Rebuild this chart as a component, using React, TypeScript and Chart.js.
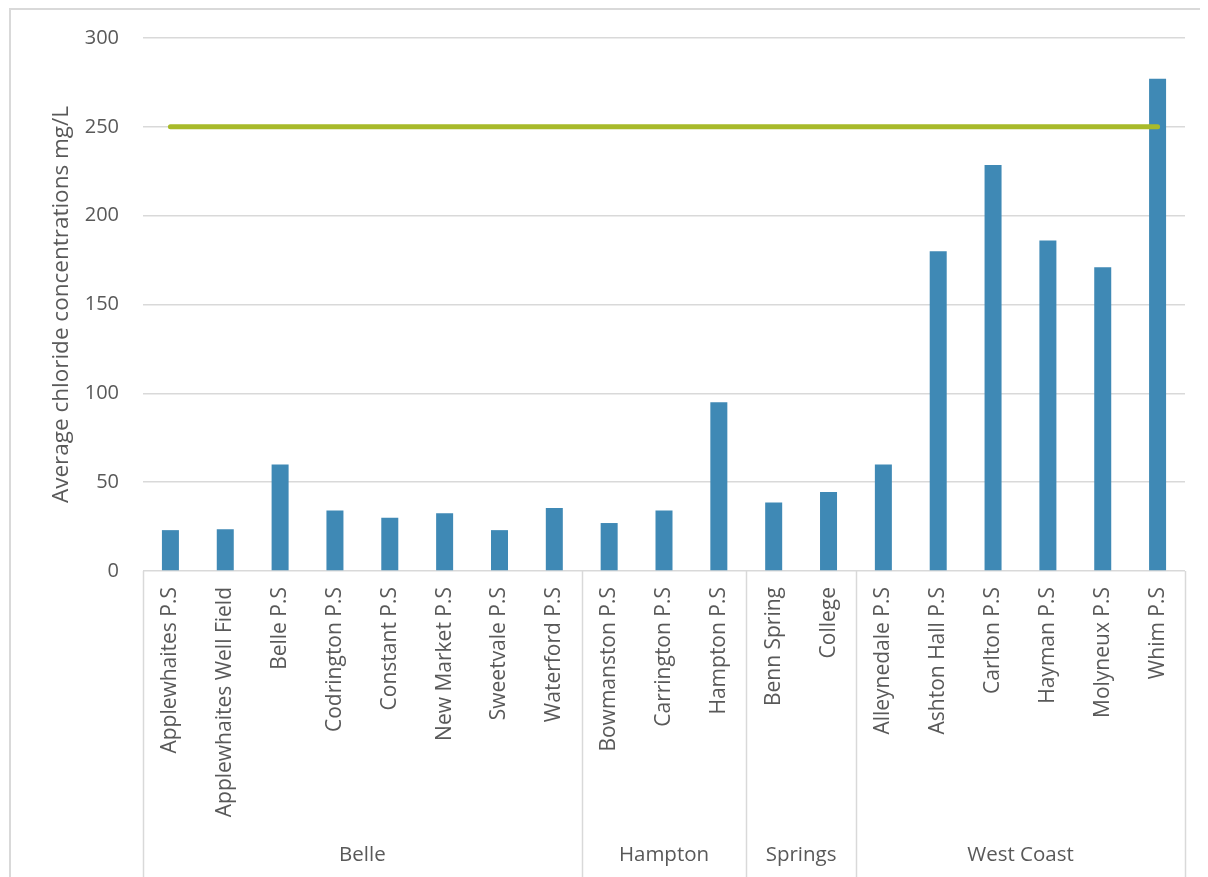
import React, { useEffect, useRef } from "react";
import { Chart, registerables } from "chart.js";

Chart.register(...registerables);

// Pumping stations, in the order they sit along the axis
const stations = [
  "Applewhaites P.S",
  "Applewhaites Well Field",
  "Belle P.S",
  "Codrington P.S",
  "Constant P.S",
  "New Market P.S",
  "Sweetvale P.S",
  "Waterford P.S",
  "Bowmanston P.S",
  "Carrington P.S",
  "Hampton P.S",
  "Benn Spring",
  "College",
  "Alleynedale P.S",
  "Ashton Hall P.S",
  "Carlton P.S",
  "Hayman P.S",
  "Molyneux P.S",
  "Whim P.S",
];

// Average chloride concentration (mg/L) per station
const chloride = [
  23, 23.5, 60, 34, 30, 32.5, 23, 35.5, 27, 34, 95, 38.5, 44.5, 60, 180, 228.5,
  186, 171, 277,
];

// Guideline limit drawn across all stations
const guideline = 250;

// Catchment groups and how many stations each covers
const groups = ["Belle", "Hampton", "Springs", "West Coast"];
const groupSizes = [8, 3, 2, 6];

const yTicks = [0, 50, 100, 150, 200, 250, 300];

const TEXT = "#595959";
const GRID = "#D9D9D9";
const FONT = "'Open Sans', sans-serif";

const groupAxisPlugin = {
  id: "groupAxis",
  afterDraw(chart: any) {
    const { ctx, chartArea } = chart;
    const x = chart.scales.x;
    const top = chartArea.bottom;
    const bottom = chart.height - 0;
    ctx.save();
    ctx.strokeStyle = GRID;
    ctx.lineWidth = 1.5;

    // separators under the axis: outer edges and group boundaries
    const edges: number[] = [0];
    groupSizes.forEach((n, i) => edges.push(edges[i] + n));
    edges.forEach((idx) => {
      const px = Math.round(x.getPixelForValue(idx - 0.5)) + 0.5;
      ctx.beginPath();
      ctx.moveTo(px, top);
      ctx.lineTo(px, bottom);
      ctx.stroke();
    });

    // group names
    ctx.fillStyle = TEXT;
    ctx.font = `20.5px ${FONT}`;
    ctx.textAlign = "center";
    ctx.textBaseline = "middle";
    groups.forEach((g, i) => {
      const a = x.getPixelForValue(edges[i] - 0.5);
      const b = x.getPixelForValue(edges[i + 1] - 0.5);
      ctx.fillText(g, (a + b) / 2, 847);
    });

    // outer frame
    ctx.lineWidth = 2;
    ctx.beginPath();
    ctx.moveTo(2, chart.height);
    ctx.lineTo(2, 1);
    ctx.lineTo(chart.width, 1);
    ctx.stroke();
    ctx.restore();
  },
};

export default function App() {
  const ref = useRef<HTMLCanvasElement | null>(null);

  useEffect(() => {
    if (!ref.current) return;
    const chart = new Chart(ref.current, {
      type: "bar",
      data: {
        labels: stations,
        datasets: [
          {
            type: "line",
            label: "Guideline",
            data: stations.map(() => guideline),
            borderColor: "#A8BA2A",
            borderWidth: 5,
            borderCapStyle: "round",
            pointRadius: 0,
            order: 0,
          } as any,
          {
            type: "bar",
            label: "Chloride",
            data: chloride,
            backgroundColor: "#3F89B5",
            categoryPercentage: 1,
            barPercentage: 0.31,
            order: 1,
          },
        ],
      },
      options: {
        responsive: false,
        animation: false,
        layout: { padding: { left: 0, right: 23, top: 30, bottom: 0 } },
        plugins: {
          legend: { display: false },
          tooltip: { enabled: false },
        },
        scales: {
          x: {
            grid: { display: false, drawTicks: false },
            border: { display: false },
            ticks: {
              autoSkip: false,
              minRotation: 90,
              maxRotation: 90,
              padding: 16,
              color: TEXT,
              font: { family: FONT, size: 21 },
            },
            afterFit: (s: any) => {
              s.height = 306;
            },
          },
          y: {
            min: 0,
            max: 300,
            afterBuildTicks: (s: any) => {
              s.ticks = yTicks.map((v) => ({ value: v }));
            },
            grid: { color: GRID, lineWidth: 1.5, drawTicks: false },
            border: { display: false },
            ticks: {
              padding: 24,
              color: TEXT,
              font: { family: FONT, size: 20 },
            },
            title: {
              display: true,
              text: "Average chloride concentrations mg/L",
              color: TEXT,
              font: { family: FONT, size: 22.5, weight: "normal" },
              padding: { top: 40, bottom: 0 },
            },
            afterFit: (s: any) => {
              s.width = 135;
              s.paddingTop = 0;
              s.paddingBottom = 0;
            },
          },
        },
      },
      plugins: [groupAxisPlugin],
    });
    return () => chart.destroy();
  }, []);

  return (
    <div style={{ width: 1200, height: 869 }}>
      <canvas ref={ref} width={1200} height={869} style={{ display: "block" }} />
    </div>
  );
}
